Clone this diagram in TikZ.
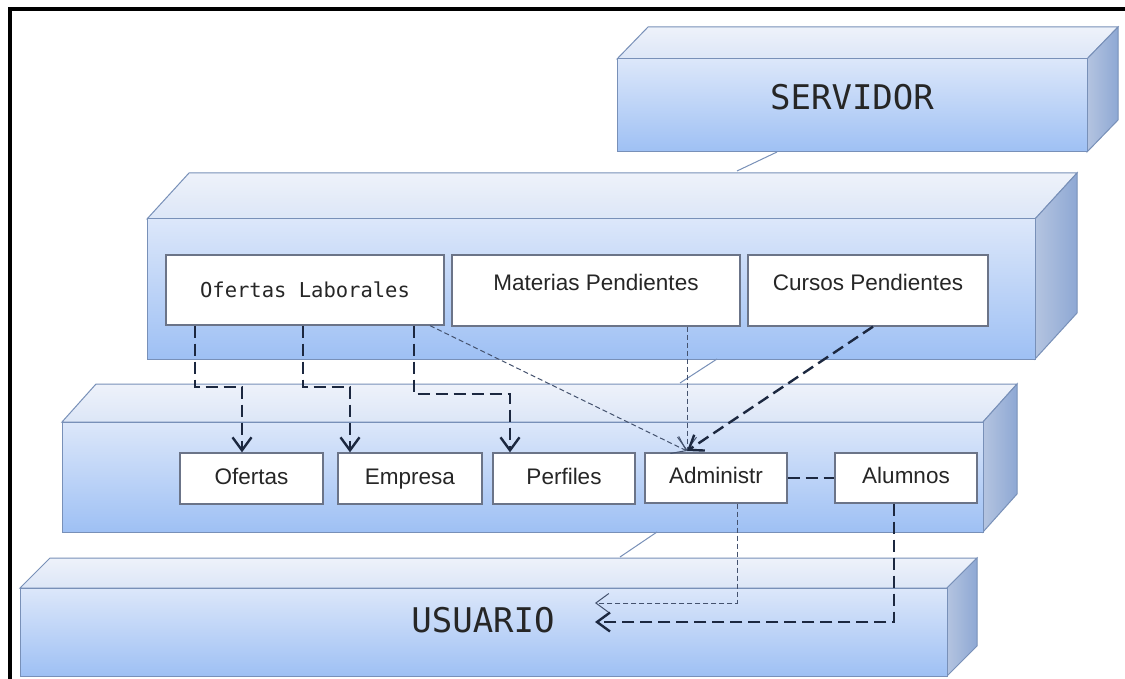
\documentclass[tikz,border=0pt]{standalone}
\usepackage{fontspec}
\setmainfont{Liberation Sans}
\newfontfamily\monofnt{DejaVu Sans Mono}
\usetikzlibrary{arrows.meta}
\definecolor{edge}{HTML}{7890B8}
\definecolor{fronttop}{HTML}{DCE7FA}
\definecolor{frontbot}{HTML}{9EC0F4}
\definecolor{topface}{HTML}{DCE6F7}
\definecolor{toplight}{HTML}{EEF2FA}
\definecolor{sidetop}{HTML}{B4C4E0}
\definecolor{sidebot}{HTML}{8EA8D4}
\definecolor{boxedge}{HTML}{6B7488}
\definecolor{darkdash}{HTML}{1C2840}
\definecolor{thindash}{HTML}{44526E}
\definecolor{txt}{HTML}{262626}
\tikzset{
  inbox/.style={draw=boxedge, line width=1.3pt, fill=white, text=txt,
    font=\fontsize{22.5}{22.5}\selectfont, inner sep=0pt},
  lowbox/.style={inbox, text height=16pt, text depth=4.5pt},
  bigtext/.style={text=txt, font=\monofnt\fontsize{34}{34}\selectfont},
  thickdash/.style={draw=darkdash, line width=2.4pt, dash pattern=on 12pt off 6pt},
  thindash/.style={draw=thindash, line width=1pt, dash pattern=on 5pt off 3pt},
  openhead/.style={-{Straight Barb[length=13pt,width=19pt]}},
  layerlink/.style={draw=edge, line width=1pt},
}
\newcommand\slab[6]{%
  \shade[top color=toplight, bottom color=topface, draw=edge, line width=1pt]
    (#1,#2) -- ({#1+#5},{#2-#6}) -- ({#3+#5},{#2-#6}) -- (#3,#2) -- cycle;
  \shade[left color=sidetop, right color=sidebot, draw=edge, line width=1pt]
    (#3,#2) -- ({#3+#5},{#2-#6}) -- ({#3+#5},{#4-#6}) -- (#3,#4) -- cycle;
  \shade[top color=fronttop, bottom color=frontbot, draw=edge, line width=1pt]
    (#1,#2) rectangle (#3,#4);
}
\begin{document}
\begin{tikzpicture}[x=1pt, y=-1pt]
\fill[white] (0,0) rectangle (1125,679);
\useasboundingbox (0,0) rectangle (1125,679);

% layers
\slab{617}{59}{1087}{152}{31}{32}
\slab{147}{219}{1035}{359}{42}{46}
\slab{62}{422}{983}{532}{34}{38}
\slab{20}{588}{947}{676}{30}{30}

% links between layers
\coordinate (l1a) at (777,152); \coordinate (l1b) at (737,171);
\coordinate (l2a) at (717,359); \coordinate (l2b) at (680,383);
\coordinate (l3a) at (657,532); \coordinate (l3b) at (620,557);
\draw[layerlink] (l1a) -- (l1b);
\draw[layerlink] (l2a) -- (l2b);
\draw[layerlink] (l3a) -- (l3b);

% layer titles
\node[bigtext] (srv) at (852,97) {SERVIDOR};
\node[bigtext] (usr) at (483,620) {USUARIO};

% upper boxes
\node[inbox, minimum width=278pt, minimum height=70pt, font=\monofnt\fontsize{20.5}{21}\selectfont] (OL) at (305,290) {Ofertas Laborales};
\node[inbox, minimum width=288pt, minimum height=71pt, text depth=17pt] (MP) at (596,290.5) {Materias Pendientes};
\node[inbox, minimum width=240pt, minimum height=71pt, text depth=17pt] (CP) at (868,290.5) {Cursos Pendientes};

% lower boxes
\node[lowbox, minimum width=143pt, minimum height=51pt] (Of) at (251.5,478.5) {Ofertas};
\node[lowbox, minimum width=144pt, minimum height=51pt] (Em) at (410,478.5) {Empresa};
\node[lowbox, minimum width=142pt, minimum height=51pt] (Pe) at (564,478.5) {Perfiles};
\node[lowbox, minimum width=142pt, minimum height=50pt] (Ad) at (716,478) {Administr};
\node[lowbox, minimum width=142pt, minimum height=50pt] (Al) at (906,478) {Alumnos};

% connectors
\coordinate (adtip) at (687,451);
\coordinate (usA) at (595,603);
\coordinate (usB) at (595,622);

\draw[thickdash, openhead] (OL.south -| 195,0) |- (242,387) -- (Of.north -| 242,0);
\draw[thickdash, openhead] (OL.south -| 303,0) |- (350,387) -- (Em.north -| 350,0);
\draw[thickdash, openhead] (OL.south -| 414,0) |- (510,394) -- (Pe.north -| 510,0);

\draw[thindash, openhead] (OL.south -| 430,0) -- (adtip);
\draw[thindash, openhead] (MP.south -| 687,0) -- (adtip);
\draw[thickdash, openhead] (CP.south -| 873,0) -- (adtip);

\draw[thickdash] (Ad.east) -- (Al.west);

\draw[thindash, openhead] (Ad.south -| 737,0) |- (usA);
\draw[thickdash, openhead] (Al.south -| 894,0) |- (usB);

% frame
\draw[line width=4pt] (9.5,679) -- (9.5,9.5) -- (1125,9.5);
\end{tikzpicture}
\end{document}
